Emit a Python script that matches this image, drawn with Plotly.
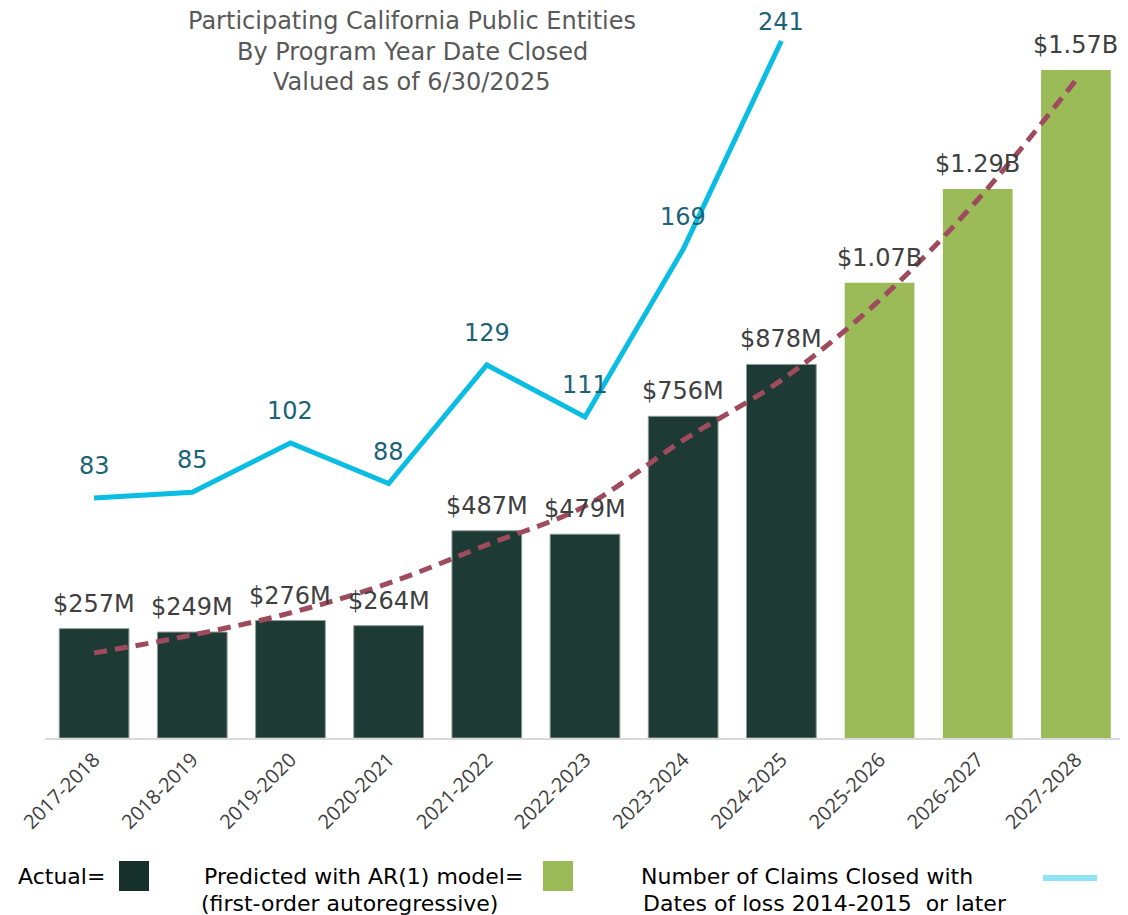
import plotly.graph_objects as go

# program years and values
years = ["2017-2018", "2018-2019", "2019-2020", "2020-2021", "2021-2022", "2022-2023",
         "2023-2024", "2024-2025", "2025-2026", "2026-2027", "2027-2028"]
amount_m = [257, 249, 276, 264, 487, 479, 756, 878, 1070, 1290, 1570]
amount_lbl = ["$257M", "$249M", "$276M", "$264M", "$487M", "$479M",
              "$756M", "$878M", "$1.07B", "$1.29B", "$1.57B"]
is_predicted = [False] * 8 + [True] * 3
trend_m = [200, 242, 294, 364, 454, 545, 700, 841, 1029, 1265, 1546]
claim_years = years[:8]
claims = [83, 85, 102, 88, 129, 111, 169, 241]

DARK = "#1E3A34"
LIGHT = "#9BBB59"
BLUE = "#0ABDE3"
VERD = "DejaVu Sans, Verdana, sans-serif"

# the page body has an 8px margin, so the figure is drawn 8px in from the corner
OFF = 8
W, H = 1128 - OFF, 915 - OFF
L, R, B = 45 - OFF, 3, 177
PW, PH = W - L - R, H - B


def px_text(text, x, y, font, xanchor="center"):
    # place a text by page pixel position
    fig.add_annotation(text=text, x=(x - OFF - L) / PW, y=(PH - (y - OFF)) / PH,
                       xref="paper", yref="paper", xanchor=xanchor, yanchor="middle",
                       showarrow=False, font=font)


def px_shape(kind, x0, y0, x1, y1, **kw):
    fig.add_shape(type=kind, xref="paper", yref="paper",
                  x0=(x0 - OFF - L) / PW, x1=(x1 - OFF - L) / PW,
                  y0=(PH - (y0 - OFF)) / PH, y1=(PH - (y1 - OFF)) / PH, **kw)


fig = go.Figure()

fig.add_bar(x=years, y=amount_m,
            marker_color=[LIGHT if p else DARK for p in is_predicted],
            marker_line=dict(color="#8f9c98", width=[0 if p else 1 for p in is_predicted]),
            showlegend=False, hoverinfo="x+y")

#exponential trend line (dashed)
fig.add_scatter(x=years, y=trend_m, mode="lines", line_shape="spline",
                line=dict(color="#9E4B5D", width=5, dash="13px,8px"),
                showlegend=False)

#number of claims closed, on second axis
fig.add_scatter(x=claim_years, y=claims, mode="lines", yaxis="y2",
                line=dict(color=BLUE, width=5), showlegend=False)

# value labels
for yr, v, t in zip(years, amount_m, amount_lbl):
    fig.add_annotation(x=yr, y=v, text=t, showarrow=False, yanchor="middle",
                       yshift=25, font=dict(family=VERD, size=24, color="#404040"))
for yr, v in zip(claim_years, claims):
    # top label is squeezed against the edge of the page
    fig.add_annotation(x=yr, y=v, yref="y2", text=str(v), showarrow=False,
                       yanchor="middle", yshift=19 if v == max(claims) else 32,
                       font=dict(family=VERD, size=24, color="#1B6478"))

# title
tf = dict(family=VERD, size=24, color="#595959")
px_text("Participating California Public Entities", 412, 21, tf)
px_text("By Program Year Date Closed", 412, 52, tf)
px_text("Valued as of 6/30/2025", 411, 82, tf)

# custom legend along the bottom
lg = dict(family=VERD, size=22, color="#000000")
px_text("Actual=", 16, 876, lg, xanchor="left")
px_shape("rect", 119, 861, 149, 891, fillcolor="#16302B", line_width=0)
px_text("Predicted with AR(1) model=", 363, 876, lg)
px_text("(first-order autoregressive)", 349, 903, lg)
px_shape("rect", 543, 861, 573, 891, fillcolor=LIGHT, line_width=0)
px_text("Number of Claims Closed with", 807, 876, lg)
px_text("Dates of loss 2014-2015  or later", 825, 903, lg)
px_shape("line", 1043, 878, 1097, 878, line=dict(color="#8EE3F5", width=6))

fig.update_layout(
    width=W, height=H,
    margin=dict(l=L, r=R, t=0, b=B),
    plot_bgcolor="white", paper_bgcolor="white",
    bargap=0.29,
    xaxis=dict(tickangle=-45, tickfont=dict(family="Open Sans", size=20, color="#404040"),
               showline=True, linecolor="#D9D9D9", linewidth=2, ticks="", showgrid=False,
               automargin=False),
    yaxis=dict(range=[0, PH / 0.4255], visible=False, showgrid=False, automargin=False),
    yaxis2=dict(range=[0, PH / 2.892], overlaying="y", visible=False, showgrid=False),
)

fig.write_html("out.html")
